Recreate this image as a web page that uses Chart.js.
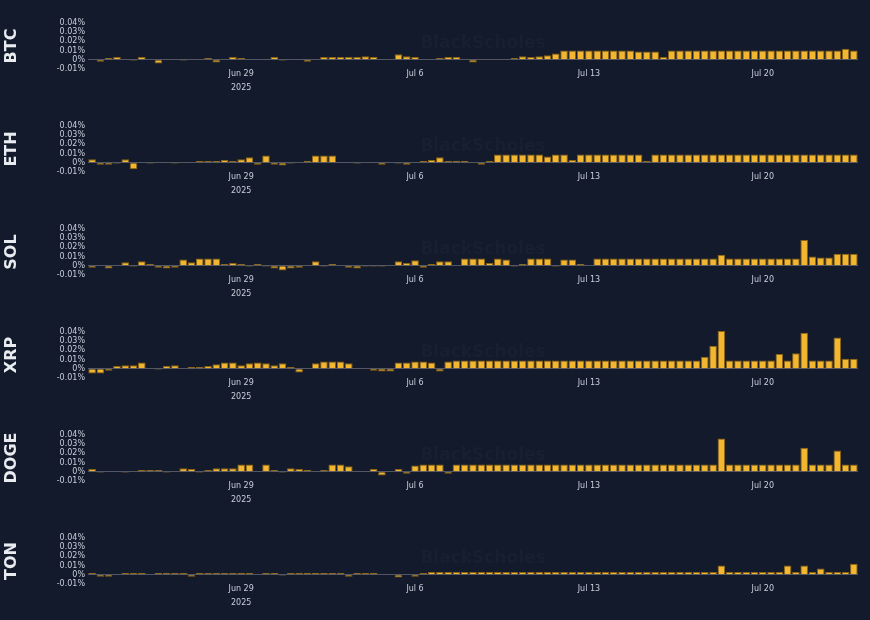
<!DOCTYPE html>
<html>
<head>
<meta charset="utf-8">
<script src="https://cdn.jsdelivr.net/npm/chart.js@4.4.0/dist/chart.umd.min.js"></script>
<style>
  html, body { margin:0; padding:0; background:#131a2c; }
  #wrap { position:relative; width:870px; height:620px; }
  canvas { position:absolute; left:0; }
</style>
</head>
<body>
<div id="wrap"></div>
<script>
// 8-hourly funding rates (%), Jun 23 00:00 -> Jul 23 16:00, 2025
const coins = ['BTC', 'ETH', 'SOL', 'XRP', 'DOGE', 'TON'];
const yTicks = [-0.01, 0, 0.01, 0.02, 0.03, 0.04];
const dateTicks = [18, 39, 60, 81];
const dateLabels = ['Jun 29', 'Jul 6', 'Jul 13', 'Jul 20'];
const yearIdx = 18, yearText = '2025';

const btc = [0.001,-0.002,0.002,0.003,0,-0.001,0.003,0.001,-0.004,0,
  0,-0.001,0,0.001,0.002,-0.003,0,0.003,0.002,0,
  0,0,0.003,-0.001,0,0,-0.002,0.001,0.003,0.003,
  0.003,0.003,0.003,0.004,0.003,0.001,0.001,0.006,0.004,0.003,
  0,0,0.002,0.003,0.003,0.001,-0.003,0.001,0.001,0.001,
  0.001,0.002,0.004,0.003,0.004,0.005,0.007,0.01,0.01,0.01,
  0.01,0.01,0.01,0.01,0.01,0.01,0.009,0.009,0.009,0.003,
  0.01,0.01,0.01,0.01,0.01,0.01,0.01,0.01,0.01,0.01,
  0.01,0.01,0.01,0.01,0.01,0.01,0.01,0.01,0.01,0.01,
  0.01,0.012,0.01];
const eth = [0.004,-0.002,-0.002,-0.001,0.004,-0.007,0,-0.001,0.001,0.001,
  -0.001,0.001,0,0.002,0.002,0.002,0.003,0.002,0.004,0.006,
  -0.002,0.008,-0.002,-0.003,-0.001,0.001,0.002,0.008,0.008,0.008,
  0.001,0,-0.001,0,0,-0.002,0,-0.001,-0.002,0.001,
  0.002,0.003,0.006,0.002,0.002,0.002,0.001,-0.002,0.002,0.009,
  0.009,0.009,0.009,0.009,0.009,0.007,0.009,0.009,0.003,0.009,
  0.009,0.009,0.009,0.009,0.009,0.009,0.009,0.002,0.009,0.009,
  0.009,0.009,0.009,0.009,0.009,0.009,0.009,0.009,0.009,0.009,
  0.009,0.009,0.009,0.009,0.009,0.009,0.009,0.009,0.009,0.009,
  0.009,0.009,0.009];
const sol = [-0.002,0,-0.003,0,0.004,-0.001,0.005,0.002,-0.002,-0.003,
  -0.002,0.007,0.004,0.008,0.008,0.008,0.002,0.003,0.002,-0.001,
  0.002,-0.001,-0.003,-0.005,-0.003,-0.002,0.001,0.005,-0.001,0.002,
  0,-0.002,-0.003,-0.001,-0.001,-0.001,0.001,0.005,0.003,0.006,
  -0.002,0.002,0.005,0.005,0,0.008,0.008,0.008,0.003,0.008,
  0.007,-0.001,0.002,0.008,0.008,0.008,-0.001,0.007,0.007,0.002,
  0,0.008,0.008,0.008,0.008,0.008,0.008,0.008,0.008,0.008,
  0.008,0.008,0.008,0.008,0.008,0.008,0.012,0.008,0.008,0.008,
  0.008,0.008,0.008,0.008,0.008,0.008,0.028,0.01,0.009,0.009,
  0.013,0.013,0.013];
const xrp = [-0.005,-0.005,-0.002,0.003,0.004,0.004,0.007,0,-0.001,0.003,
  0.004,0,0.002,0.002,0.003,0.005,0.007,0.007,0.004,0.006,
  0.007,0.006,0.004,0.006,0.002,-0.004,0,0.006,0.008,0.008,
  0.008,0.006,0.001,0,-0.002,-0.003,-0.003,0.007,0.007,0.008,
  0.008,0.007,-0.003,0.008,0.009,0.009,0.009,0.009,0.009,0.009,
  0.009,0.009,0.009,0.009,0.009,0.009,0.009,0.009,0.009,0.009,
  0.009,0.009,0.009,0.009,0.009,0.009,0.009,0.009,0.009,0.009,
  0.009,0.009,0.009,0.009,0.013,0.025,0.041,0.009,0.009,0.009,
  0.009,0.009,0.009,0.016,0.009,0.017,0.039,0.009,0.009,0.009,
  0.034,0.011,0.011];
const doge = [0.003,-0.001,0,0,-0.001,0.001,0.002,0.002,0.002,-0.001,
  0.001,0.004,0.003,-0.001,0.002,0.004,0.004,0.004,0.008,0.008,
  0,0.008,0.002,-0.001,0.004,0.003,0.002,0.001,0.002,0.008,
  0.008,0.006,0.001,0,0.003,-0.004,0,0.003,-0.002,0.007,
  0.008,0.008,0.008,-0.002,0.008,0.008,0.008,0.008,0.008,0.008,
  0.008,0.008,0.008,0.008,0.008,0.008,0.008,0.008,0.008,0.008,
  0.008,0.008,0.008,0.008,0.008,0.008,0.008,0.008,0.008,0.008,
  0.008,0.008,0.008,0.008,0.008,0.008,0.036,0.008,0.008,0.008,
  0.008,0.008,0.008,0.008,0.008,0.008,0.026,0.008,0.008,0.008,
  0.023,0.008,0.008];
const ton = [0.002,-0.002,-0.002,0,0.002,0.002,0.002,0.001,0.002,0.002,
  0.002,0.002,-0.002,0.002,0.002,0.002,0.002,0.002,0.002,0.002,
  0,0.002,0.002,-0.001,0.002,0.002,0.002,0.002,0.002,0.002,
  0.002,-0.002,0.002,0.002,0.002,0,0.001,-0.003,0,-0.002,
  0.002,0.003,0.003,0.003,0.003,0.003,0.003,0.003,0.003,0.003,
  0.003,0.003,0.003,0.003,0.003,0.003,0.003,0.003,0.003,0.003,
  0.003,0.003,0.003,0.003,0.003,0.003,0.003,0.003,0.003,0.003,
  0.003,0.003,0.003,0.003,0.003,0.003,0.01,0.003,0.003,0.003,
  0.003,0.003,0.003,0.003,0.01,0.003,0.01,0.003,0.007,0.003,
  0.003,0.003,0.012];
const series = [btc, eth, sol, xrp, doge, ton];

const labels = btc.map((_, i) => i);

// watermark, and the date labels placed through the x scale
const extras = {
  id: 'extras',
  beforeDatasetsDraw(chart) {
    const { ctx, chartArea } = chart;
    ctx.save();
    ctx.font = 'bold 17px "DejaVu Sans"';
    ctx.fillStyle = 'rgba(255,255,255,0.025)';
    ctx.textAlign = 'center';
    ctx.textBaseline = 'middle';
    ctx.fillText('BlackScholes', (chartArea.left + chartArea.right) / 2 + 10, chartArea.top + 22);
    ctx.restore();
  },
  afterDraw(chart) {
    const { ctx, chartArea } = chart;
    const xs = chart.scales.x;
    ctx.save();
    ctx.font = '8px "DejaVu Sans"';
    ctx.fillStyle = '#c9ced8';
    ctx.textAlign = 'center';
    ctx.textBaseline = 'middle';
    dateTicks.forEach((i, j) => ctx.fillText(dateLabels[j], xs.getPixelForValue(i), chartArea.bottom + 4));
    ctx.fillText(yearText, xs.getPixelForValue(yearIdx), chartArea.bottom + 18);
    ctx.restore();
  }
};

const wrap = document.getElementById('wrap');
coins.forEach((coin, k) => {
  const cv = document.createElement('canvas');
  cv.width = 870;
  cv.height = 103;
  cv.style.top = (k * 103) + 'px';
  wrap.appendChild(cv);

  new Chart(cv, {
    type: 'bar',
    data: {
      labels,
      datasets: [{
        data: series[k],
        backgroundColor: '#f2b631',
        borderColor: '#8a6414',
        borderWidth: 1,
        categoryPercentage: 1,
        barPercentage: 0.92
      }]
    },
    options: {
      responsive: false,
      animation: false,
      devicePixelRatio: 1,
      layout: { padding: { top: 22, right: 12, left: 0, bottom: 33 } },
      plugins: { legend: { display: false }, tooltip: { enabled: false } },
      scales: {
        x: {
          afterFit: ax => { ax.height = 0; },
          grid: { display: false },
          border: { display: false },
          ticks: { display: false }
        },
        y: {
          min: -0.011, max: 0.041,
          afterBuildTicks: ax => { ax.ticks = yTicks.map(v => ({ value: v })); },
          afterFit: ax => { ax.width = 88; },
          grid: {
            drawTicks: false,
            color: ctx => ctx.tick && ctx.tick.value === 0 ? 'rgba(200,200,210,0.35)' : 'transparent'
          },
          border: { display: false },
          title: { display: true, text: coin, color: '#e8ebf0', padding: 2, font: { size: 16, weight: 'bold', family: 'DejaVu Sans' } },
          ticks: {
            autoSkip: false, padding: 3, color: '#c9ced8', font: { size: 8, family: 'DejaVu Sans', lineHeight: 1 },
            callback: v => (Math.round(v * 100) / 100) + '%'
          }
        }
      }
    },
    plugins: [extras]
  });
});
</script>
</body>
</html>
